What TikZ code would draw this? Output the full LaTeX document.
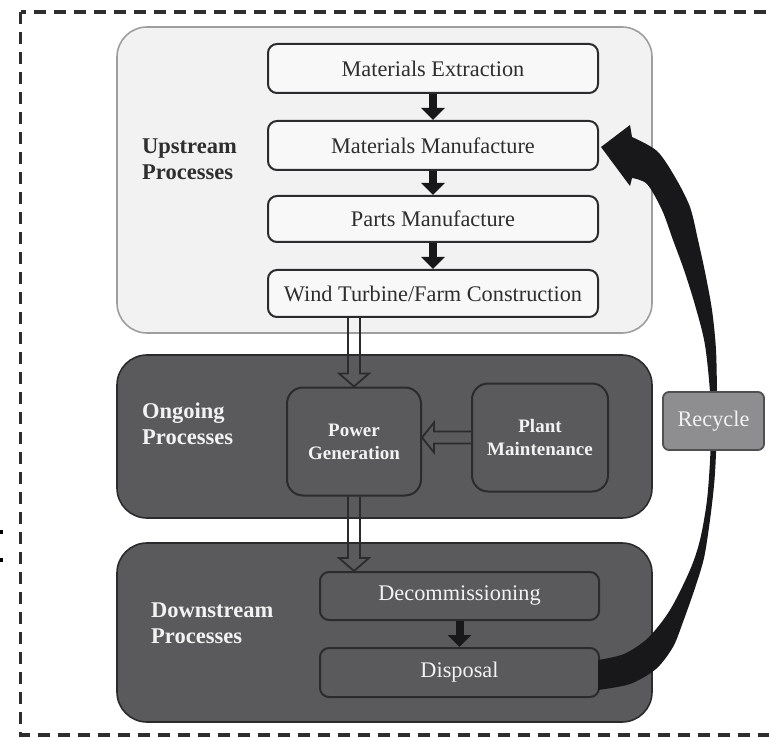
\documentclass[tikz,border=0pt]{standalone}
\usepackage{fontspec}
\setmainfont{Liberation Serif}
\usetikzlibrary{arrows.meta,calc}
\definecolor{upfill}{HTML}{F2F2F2}
\definecolor{upedge}{HTML}{9E9E9E}
\definecolor{boxfill}{HTML}{F8F8F8}
\definecolor{edgedark}{HTML}{2B2B2D}
\definecolor{darkfill}{HTML}{5A5A5C}
\definecolor{recfill}{HTML}{8E8E90}
\definecolor{recedge}{HTML}{505052}
\definecolor{inkdark}{HTML}{2E2E2E}
\definecolor{inklight}{HTML}{F2F2F2}
\definecolor{swoosh}{HTML}{18181A}

% hollow (outlined) block arrows between stages
\newcommand\hollowdown[2]{%
  \draw[hollowarrow] let \p1=(#1), \p2=(#2) in
    (\x1-6pt,\y1) -- (\x1-6pt,\y2+13pt) -- (\x1-15pt,\y2+13pt) -- (\x1,\y2)
    -- (\x1+15pt,\y2+13pt) -- (\x1+6pt,\y2+13pt) -- (\x1+6pt,\y1);}
\newcommand\hollowleft[2]{%
  \draw[hollowarrow] let \p1=(#1), \p2=(#2) in
    (\x1,\y1+6pt) -- (\x2+12pt,\y1+6pt) -- (\x2+12pt,\y1+15pt) -- (\x2,\y1)
    -- (\x2+12pt,\y1-15pt) -- (\x2+12pt,\y1-6pt) -- (\x1,\y1-6pt);}

\begin{document}
\begin{tikzpicture}[x=1pt,y=-1pt,
  txt/.style={font=\fontsize{22.3}{26}\selectfont},
  stage/.style={rounded corners=30pt, inner sep=0pt, line width=1.6pt,
    minimum width=535pt},
  upstage/.style={stage, fill=upfill, draw=upedge},
  darkstage/.style={stage, fill=darkfill, draw=edgedark},
  stepbox/.style={rounded corners=9pt, inner sep=0pt, line width=2pt,
    fill=boxfill, draw=edgedark, text=inkdark, txt},
  darkbox/.style={rounded corners=9pt, inner sep=0pt, line width=2pt,
    fill=darkfill, draw=edgedark, text=inklight, txt},
  bigbox/.style={rounded corners=16pt, inner sep=0pt, line width=2pt,
    fill=darkfill, draw=edgedark, text=inklight, align=center,
    font=\bfseries\fontsize{19}{23}\selectfont},
  stagelabel/.style={anchor=west, align=left, inner sep=0pt,
    font=\bfseries\fontsize{22.5}{26}\selectfont},
  solidarrow/.style={draw=swoosh, line width=8pt,
    -{Triangle[width=23pt,length=12pt]}},
  hollowarrow/.style={draw=edgedark, line width=1.8pt, line join=miter},
  frame/.style={draw=inkdark, line width=3.5pt, dash pattern=on 12pt off 8pt}
]
\useasboundingbox (0,0) rectangle (769,738);

% outer dashed frame, open on the right
\begin{scope}
  \clip (0,0) rectangle (769,738);
  \draw[frame] (20.5,12) rectangle (800,735);
\end{scope}
\fill[black] (0,530) rectangle (3,534);
\fill[black] (0,558) rectangle (3,562);

% stage containers
\node[upstage, minimum height=306pt] (up) at (384.5,180) {};
\node[darkstage, minimum height=163pt] (ong) at (384.5,436.5) {};
\node[darkstage, minimum height=179pt] (down) at (384.5,632.5) {};

\node[stagelabel, text=inkdark] (uplab) at (142,159) {Upstream\\Processes};
\node[stagelabel, text=inklight] (onglab) at (142,424) {Ongoing\\Processes};
\node[stagelabel, text=inklight] (downlab) at (151,623) {Downstream\\Processes};

% upstream steps
\node[stepbox, minimum width=330pt, minimum height=49pt] (me) at (433,68.5) {Materials Extraction};
\node[stepbox, minimum width=330pt, minimum height=49pt] (mm) at (433,145.5) {Materials Manufacture};
\node[stepbox, minimum width=330pt, minimum height=46pt] (pm) at (433,219) {Parts Manufacture};
\node[stepbox, minimum width=330pt, minimum height=47pt] (wt) at (433,293.5) {Wind Turbine/Farm Construction};

\draw[solidarrow] (me.south) -- (mm.north);
\draw[solidarrow] (mm.south) -- (pm.north);
\draw[solidarrow] (pm.south) -- (wt.north);

% ongoing stage
\node[bigbox, minimum width=134pt, minimum height=108pt] (pg) at (354,441.5) {Power\\Generation};
\node[bigbox, minimum width=136pt, minimum height=108pt] (pl) at (540,437.5) {Plant\\Maintenance};

% downstream stage
\node[darkbox, minimum width=279pt, minimum height=48pt] (dc) at (459.5,596) {Decommissioning};
\node[darkbox, minimum width=279pt, minimum height=49pt] (dp) at (459.5,672.5) {Disposal};
\draw[solidarrow] (dc.south) -- (dp.north);

% flows between stages
\hollowdown{wt.south -| pg.north}{pg.north}
\hollowdown{pg.south}{pg.south |- dc.north}
\hollowleft{pl.west}{pg.east |- pl.west}

% recycle loop from disposal back to materials manufacture
\fill[swoosh]
  plot[smooth] coordinates {(598,690) (630,684) (656,669) (673,647) (683,622)
    (695,588) (704,558) (710,520) (714.5,480) (716.5,440) (717,400) (716,350)
    (712,310) (705,272) (698,240) (690,207) (675,177) (657,151) (632,137)}
  -- (630,125) -- (601,147) -- (630,186)
  -- plot[smooth] coordinates {(632,178) (647,184) (662,210) (673,240)
    (684,270) (695,305) (705,345) (710.5,400) (710.5,450) (707,500) (700,540)
    (690,570) (670,610) (648,638) (624,654) (598,660)}
  -- cycle;

\node[rounded corners=6pt, inner sep=0pt, line width=1.8pt, fill=recfill,
  draw=recedge, text=inklight, txt, minimum width=101pt, minimum height=58pt]
  (rc) at (713.5,421) {Recycle};
\end{tikzpicture}
\end{document}
